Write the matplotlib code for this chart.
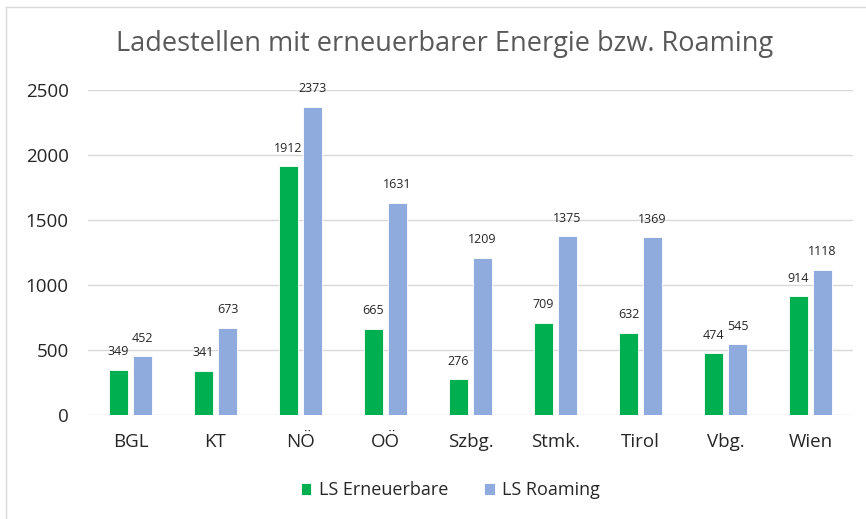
import numpy as np
import matplotlib
matplotlib.use('Agg')
import matplotlib.pyplot as plt
from matplotlib.lines import Line2D

regions = ['BGL', 'KT', 'NÖ', 'OÖ', 'Szbg.', 'Stmk.', 'Tirol', 'Vbg.', 'Wien']
erneuerbare = [349, 341, 1912, 665, 276, 709, 632, 474, 914]
roaming = [452, 673, 2373, 1631, 1209, 1375, 1369, 545, 1118]

plt.rcParams['font.family'] = ['Open Sans', 'DejaVu Sans']

fig = plt.figure(figsize=(8.66, 5.19), dpi=100)
ax = fig.add_axes([0.1016, 0.2004, 0.8834, 0.6262])

x = np.arange(len(regions))
w = 0.225
off = 0.141
b1 = ax.bar(x - off, erneuerbare, w, color='#00B050', edgecolor='white', linewidth=0.6,
            label='LS Erneuerbare', zorder=3)
b2 = ax.bar(x + off, roaming, w, color='#8FAADC', edgecolor='white', linewidth=0.6,
            label='LS Roaming', zorder=3)

for bars in (b1, b2):
    for r in bars:
        ax.annotate(str(int(r.get_height())), (r.get_x() + r.get_width() / 2, r.get_height()),
                    xytext=(0, 18), textcoords='offset pixels', ha='center', va='center',
                    fontsize=9, color='#262626', zorder=4)

ax.set_xlim(-0.5, len(regions) - 0.5)
ax.set_ylim(0, 2500)
ax.set_yticks(range(0, 2501, 500))
ax.set_xticks(x)
ax.set_xticklabels(regions)
ax.tick_params(axis='both', length=0, labelsize=13.5, labelcolor='#262626')
ax.tick_params(axis='y', pad=14)
ax.tick_params(axis='x', pad=13)
ax.grid(axis='y', color='#D9D9D9', linewidth=1, zorder=0)
for s in ax.spines.values():
    s.set_visible(False)

fig.text(0.513, 0.915, 'Ladestellen mit erneuerbarer Energie bzw. Roaming',
         ha='center', va='center', fontsize=19.5, color='#595959')

ax.legend(loc='center', bbox_to_anchor=(0.52, 0.055), bbox_transform=fig.transFigure,
          ncol=2, frameon=False, fontsize=13, handlelength=0.6, handleheight=0.6,
          handletextpad=0.4, columnspacing=2.0, labelcolor='#262626')

# chart border (left and top edges visible)
fig.add_artist(Line2D([6 / 866, 6 / 866], [0, 1 - 7 / 519], transform=fig.transFigure,
                      color='#D9D9D9', linewidth=1))
fig.add_artist(Line2D([6 / 866, 1], [1 - 7 / 519, 1 - 7 / 519], transform=fig.transFigure,
                      color='#D9D9D9', linewidth=1))

fig.savefig('out.png', dpi=100)
